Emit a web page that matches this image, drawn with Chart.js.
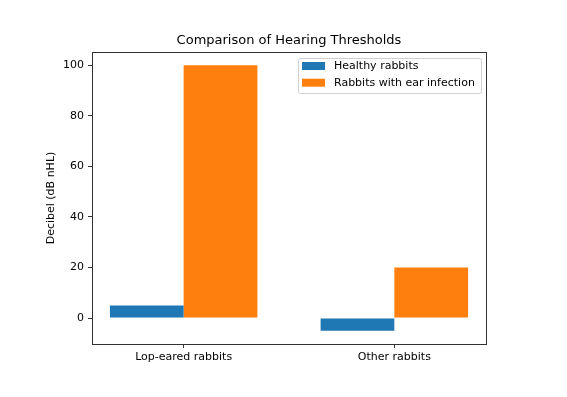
<!DOCTYPE html>
<html>
<head>
<meta charset="utf-8">
<script src="https://cdn.jsdelivr.net/npm/chart.js@4.4.0/dist/chart.umd.min.js"></script>
<style>
  html, body { margin: 0; padding: 0; background: #fff; }
  canvas { display: block; }
</style>
</head>
<body>
<canvas id="grafica" width="567" height="397"></canvas>
<script>
// data
const categorias = ["Lop-eared rabbits", "Other rabbits"];
const sanos = [5, -5];
const infectados = [100, 20];
const ticksY = [0, 20, 40, 60, 80, 100];
const nombres = ["Healthy rabbits", "Rabbits with ear infection"];
const colores = ["#1f77b4", "#ff7f0e"];

const fuente = "'DejaVu Sans', sans-serif";

function aPuntos(valores) {
    return valores.map((v, i) => ({ x: i, y: v }));
}

// marco, titulo y leyenda al estilo matplotlib
const extras = {
    id: "extras",
    afterDraw(chart) {
        const ctx = chart.ctx;
        const a = chart.chartArea;
        ctx.save();
        ctx.strokeStyle = "#333";
        ctx.lineWidth = 1;
        ctx.strokeRect(Math.round(a.left) + 0.5, Math.round(a.top) + 0.5,
            Math.round(a.right - a.left), Math.round(a.bottom - a.top));

        ctx.fillStyle = "#000";
        ctx.font = "13px " + fuente;
        ctx.textAlign = "center";
        ctx.textBaseline = "alphabetic";
        ctx.fillText("Comparison of Hearing Thresholds", (a.left + a.right) / 2, 44);

        // leyenda
        const lx = 298, ly = 58, lw = 183, lh = 35;
        ctx.fillStyle = "rgba(255,255,255,0.8)";
        ctx.strokeStyle = "#d0d0d0";
        ctx.beginPath();
        ctx.roundRect(lx + 0.5, ly + 0.5, lw, lh, 2);
        ctx.fill();
        ctx.stroke();
        ctx.font = "11px " + fuente;
        ctx.textAlign = "left";
        ctx.textBaseline = "middle";
        chart.data.datasets.forEach((ds, i) => {
            const cy = 66 + i * 16.7;
            ctx.fillStyle = ds.backgroundColor;
            ctx.fillRect(302, cy - 4, 23, 8);
            ctx.fillStyle = "#000";
            ctx.fillText(ds.label, 334, cy);
        });
        ctx.restore();
    }
};

new Chart(document.getElementById("grafica"), {
    type: "bar",
    data: {
        datasets: [
            { label: nombres[0], data: aPuntos(sanos), backgroundColor: colores[0] },
            { label: nombres[1], data: aPuntos(infectados), backgroundColor: colores[1] }
        ]
    },
    options: {
        responsive: false,
        animation: false,
        layout: { padding: { top: 52, right: 81, left: 0, bottom: 0 } },
        datasets: { bar: { categoryPercentage: 0.7, barPercentage: 1.0, borderWidth: 0 } },
        plugins: {
            legend: { display: false },
            tooltip: { enabled: false }
        },
        scales: {
            x: {
                type: "linear",
                offset: false,
                min: -0.435,
                max: 1.435,
                afterBuildTicks: s => { s.ticks = categorias.map((c, i) => ({ value: i })); },
                afterFit: s => { s.height = 53; },
                border: { display: false },
                grid: { offset: false, drawOnChartArea: false, drawTicks: true, tickLength: 4, color: "#333" },
                ticks: {
                    padding: 3,
                    color: "#000",
                    font: { family: fuente, size: 11 },
                    maxRotation: 0,
                    callback: v => categorias[v]
                }
            },
            y: {
                min: -10.25,
                max: 105.25,
                afterBuildTicks: s => { s.ticks = ticksY.map(v => ({ value: v })); },
                afterFit: s => { s.width = 92; },
                border: { display: false },
                grid: { drawOnChartArea: false, drawTicks: true, tickLength: 4, color: "#333" },
                ticks: {
                    padding: 4,
                    color: "#000",
                    font: { family: fuente, size: 11 }
                },
                title: {
                    display: true,
                    text: "Decibel (dB nHL)",
                    color: "#000",
                    font: { family: fuente, size: 11 },
                    padding: { top: 45, bottom: 0 }
                }
            }
        }
    },
    plugins: [extras]
});
</script>
</body>
</html>
